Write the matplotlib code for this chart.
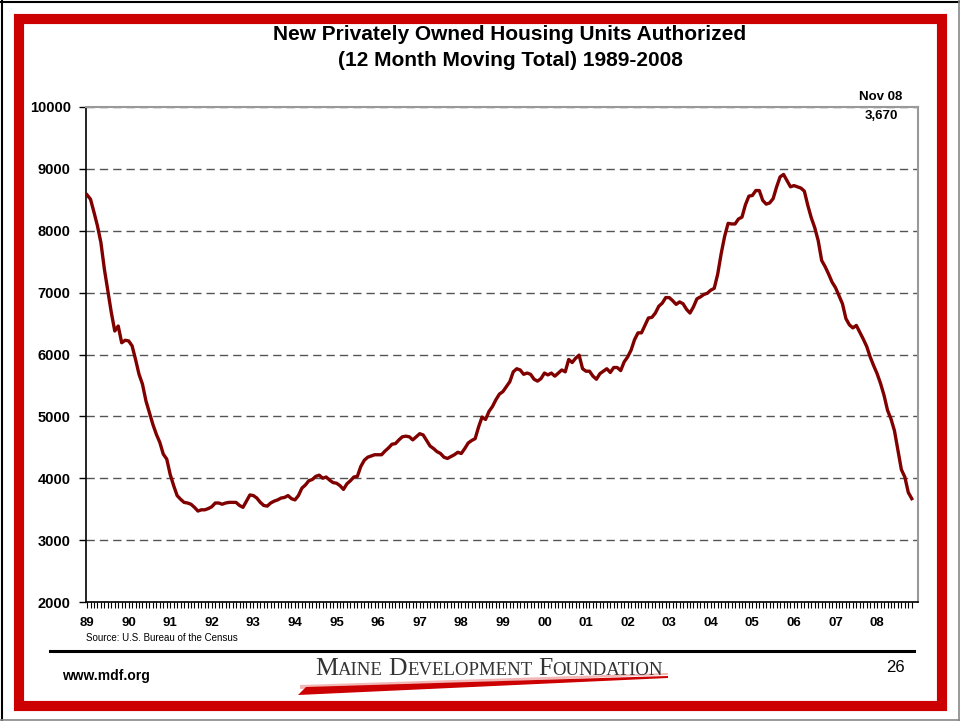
import matplotlib
matplotlib.use("Agg")
import matplotlib.pyplot as plt
from matplotlib.lines import Line2D
from matplotlib.patches import Polygon, Rectangle
from matplotlib.ticker import FixedLocator, FuncFormatter

plt.rcParams["font.family"] = ["Liberation Sans", "DejaVu Sans"]

# 12 month moving total of units authorized, Jan 1989 .. Nov 2008 (one row per year)
permits = [
    8580, 8510, 8300, 8080, 7810, 7380, 7030, 6680, 6380, 6460, 6190, 6230,  # 89
    6220, 6140, 5920, 5680, 5520, 5250, 5060, 4870, 4710, 4580, 4390, 4310,  # 90
    4060, 3880, 3720, 3660, 3610, 3600, 3580, 3530, 3470, 3490, 3490, 3510,  # 91
    3540, 3600, 3600, 3580, 3600, 3610, 3610, 3610, 3560, 3530, 3630, 3730,  # 92
    3720, 3680, 3610, 3560, 3550, 3600, 3630, 3650, 3680, 3690, 3720, 3670,  # 93
    3650, 3720, 3840, 3890, 3960, 3980, 4030, 4050, 4000, 4020, 3970, 3930,  # 94
    3920, 3880, 3820, 3910, 3960, 4020, 4030, 4190, 4290, 4340, 4360, 4380,  # 95
    4380, 4380, 4440, 4490, 4550, 4560, 4620, 4670, 4680, 4670, 4620, 4670,  # 96
    4720, 4700, 4610, 4520, 4480, 4430, 4400, 4340, 4320, 4350, 4380, 4420,  # 97
    4400, 4480, 4570, 4610, 4640, 4830, 4990, 4950, 5080, 5160, 5270, 5360,  # 98
    5400, 5480, 5560, 5720, 5770, 5750, 5680, 5700, 5680, 5600, 5570, 5610,  # 99
    5700, 5670, 5700, 5650, 5700, 5750, 5720, 5920, 5870, 5940, 5990, 5770,  # 00
    5730, 5730, 5650, 5600, 5690, 5730, 5770, 5710, 5790, 5790, 5740, 5880,  # 01
    5960, 6070, 6240, 6350, 6350, 6470, 6590, 6600, 6670, 6780, 6830, 6920,  # 02
    6920, 6870, 6810, 6850, 6820, 6730, 6670, 6770, 6900, 6930, 6970, 6990,  # 03
    7040, 7070, 7300, 7630, 7910, 8120, 8110, 8110, 8190, 8220, 8420, 8560,  # 04
    8570, 8650, 8650, 8490, 8430, 8450, 8520, 8710, 8870, 8910, 8810, 8710,  # 05
    8730, 8710, 8690, 8640, 8410, 8210, 8050, 7840, 7520, 7420, 7300, 7170,  # 06
    7080, 6950, 6820, 6580, 6480, 6430, 6470, 6360, 6250, 6130, 5960, 5820,  # 07
    5690, 5530, 5340, 5100, 4960, 4770, 4450, 4140, 4020, 3770, 3670,        # 08
]
year_labels = ["89", "90", "91", "92", "93", "94", "95", "96", "97", "98",
               "99", "00", "01", "02", "03", "04", "05", "06", "07", "08"]
y_ticks = [2000, 3000, 4000, 5000, 6000, 7000, 8000, 9000, 10000]
last_label = "Nov 08"

W, H = 960, 721
RED = "#cc0000"


def fx(x):
    return x / W


def fy(y):
    return 1 - y / H


fig = plt.figure(figsize=(W / 100, H / 100), dpi=100)

# page frame: thin outer line, thick red border
fig.add_artist(Line2D([0, 1], [fy(1.5)] * 2, color="black", lw=1.5))
fig.add_artist(Line2D([fx(1.5)] * 2, [0, 1], color="black", lw=1.5))
fig.add_artist(Line2D([0, 1], [fy(719.5)] * 2, color="#888888", lw=1.2))
fig.add_artist(Line2D([fx(958.5)] * 2, [0, 1], color="#888888", lw=1.2))
fig.add_artist(Rectangle((fx(19), fy(706)), fx(942) - fx(19), fy(19) - fy(706),
                         transform=fig.transFigure, fill=False,
                         edgecolor=RED, lw=7.3))

fig.text(fx(510), fy(35), "New Privately Owned Housing Units Authorized",
         ha="center", va="center", fontsize=15, weight="bold")
fig.text(fx(510), fy(60), "(12 Month Moving Total) 1989-2008",
         ha="center", va="center", fontsize=15, weight="bold")

ax = fig.add_axes([fx(86), fy(602), fx(918) - fx(86), fy(107) - fy(602)])
months = list(range(len(permits)))
ax.plot(months, permits, color="#800000", lw=2.4, solid_joinstyle="round",
        zorder=3)

ax.set_xlim(-0.3, 239.8)
ax.set_ylim(y_ticks[0], y_ticks[-1])
ax.set_yticks(y_ticks)
ax.yaxis.set_major_formatter(FuncFormatter(lambda v, p: f"{int(v)}"))
ax.tick_params(axis="y", direction="out", length=5, width=1, pad=6,
               labelsize=10.5)
for lab in ax.get_yticklabels():
    lab.set_fontweight("bold")

ax.xaxis.set_major_locator(FixedLocator([12 * k for k in range(len(year_labels))]))
ax.xaxis.set_minor_locator(FixedLocator(months))
ax.set_xticklabels(year_labels, fontsize=9.5, fontweight="bold")
ax.tick_params(axis="x", which="both", direction="out", length=4, width=0.8,
               pad=7)

ax.set_axisbelow(True)
ax.yaxis.grid(True, color="#555555", lw=1.0, linestyle=(0, (6, 3.6)))
for side in ("left", "bottom"):
    ax.spines[side].set_color("black")
    ax.spines[side].set_linewidth(1.2)
for side in ("top", "right"):
    ax.spines[side].set_color("#999999")
    ax.spines[side].set_linewidth(1.5)

fig.text(fx(881), fy(97), last_label, ha="center", va="center",
         fontsize=9.5, weight="bold")
fig.text(fx(881), fy(116), f"{permits[-1]:,}", ha="center", va="center",
         fontsize=9.5, weight="bold")

fig.text(fx(86), fy(638), "Source: U.S. Bureau of the Census", ha="left",
         va="center", fontsize=7)

# footer
fig.add_artist(Line2D([fx(50), fx(914)], [fy(651)] * 2, color="black", lw=2.2))
fig.text(fx(62), fy(676), "www.mdf.org", ha="left", va="center",
         fontsize=10, weight="bold")
fig.text(fx(895), fy(668), "26", ha="center", va="center", fontsize=12)

# logo: small caps wordmark with a red swoosh
renderer = fig.canvas.get_renderer()
x = 315.0
for word in ["Maine", "Development", "Foundation"]:
    for part, size in ((word[0], 18.5), (word[1:].upper(), 13.5)):
        t = fig.text(fx(x), fy(675), part, ha="left", va="baseline",
                     fontsize=size, family="Liberation Serif", color="#333333")
        x += t.get_window_extent(renderer).width
    x += 6
fig.add_artist(Polygon([(fx(300), fy(685)), (fx(668), fy(673)),
                        (fx(668), fy(675)), (fx(300), fy(689))],
                       closed=True, transform=fig.transFigure,
                       facecolor="#f2b8b8", edgecolor="none"))
fig.add_artist(Polygon([(fx(298), fy(695)), (fx(306), fy(687)),
                        (fx(668), fy(676)), (fx(668), fy(678))],
                       closed=True, transform=fig.transFigure,
                       facecolor=RED, edgecolor="none"))

fig.savefig("out.png", dpi=100)
